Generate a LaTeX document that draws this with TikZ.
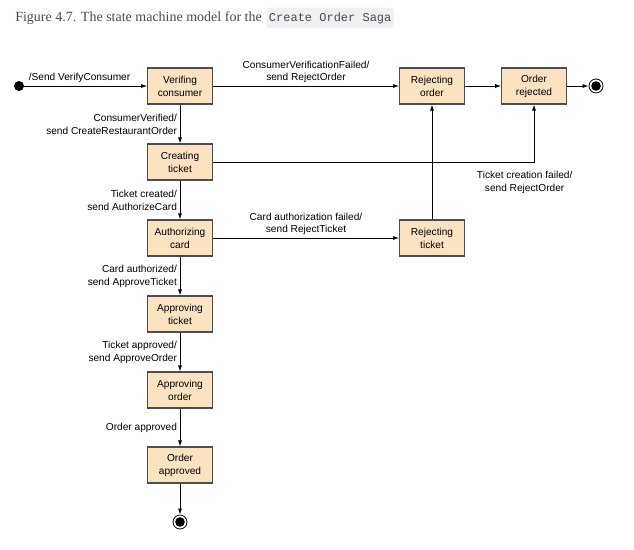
\documentclass[tikz,border=0pt]{standalone}
\usepackage{fontspec}
\setmainfont{Liberation Serif}
\setsansfont{Liberation Sans}
\setmonofont{Liberation Mono}
\usetikzlibrary{positioning,arrows.meta}

\definecolor{statefill}{HTML}{FBE3C1}
\definecolor{stateline}{HTML}{4D4D4D}
\definecolor{titlegray}{HTML}{4A4A4A}
\definecolor{codebg}{HTML}{EEF0F4}

\tikzset{
  state/.style={draw=stateline, fill=statefill, line width=0.8pt, minimum width=48.5pt, minimum height=27pt, inner sep=1pt, align=center},
  trans/.style={-{Latex[length=4.5pt,width=3pt]}, line width=0.6pt},
  lbl/.style={align=center, inner sep=2pt}
}

\begin{document}
\begin{tikzpicture}[x=0.75pt, y=-0.75pt, font=\sffamily\fontsize{7.6}{9.6}\selectfont]
  \useasboundingbox (0,0) rectangle (634,549);
  % caption
  \node[anchor=west, text=titlegray, font=\rmfamily\fontsize{10.5}{12}\selectfont, inner sep=0pt] (title) at (15,18) {Figure 4.7. The state machine model for the};
  \node[anchor=west, fill=codebg, rounded corners=2.5pt, text=titlegray, font=\ttfamily\fontsize{9}{11}\selectfont, inner xsep=2pt, inner ysep=3.5pt] (code) at (title.east) [xshift=3pt] {Create Order Saga};

  % main column of states
  \foreach \y/\name/\txt in {86/verify/Verifing\\consumer, 162/create/Creating\\ticket, 238/auth/Authorizing\\card, 314/apprticket/Approving\\ticket, 390/approrder/Approving\\order, 465/approved/Order\\approved}
    \node[state] (\name) at (180,\y) {\txt};

  % reject branch
  \node[state] (rejorder) at (432,86) {Rejecting\\order};
  \node[state] (rejected) at (534,86) {Order\\rejected};
  \node[state] (rejticket) at (432,238) {Rejecting\\ticket};

  % start and final states
  \node[circle, fill=black, inner sep=0pt, minimum size=7.5pt] (start) at (19,86) {};
  \node[circle, draw=black, line width=0.6pt, inner sep=0pt, minimum size=10.5pt] (endtop) at (596,86) {};
  \fill (endtop) circle[radius=3.6pt];
  \node[circle, draw=black, line width=0.6pt, inner sep=0pt, minimum size=10.5pt] (endbottom) at (180,522) {};
  \fill (endbottom) circle[radius=3.6pt];

  % transitions
  \draw[trans] (start) -- node[lbl, above, pos=0.45] {/Send VerifyConsumer} (verify);
  \draw[trans] (verify) -- node[lbl, above] {ConsumerVerificationFailed/\\send RejectOrder} (rejorder);
  \draw[trans] (rejorder) -- (rejected);
  \draw[trans] (rejected) -- (endtop);
  \draw[trans] (verify) -- node[lbl, left, align=right] {ConsumerVerified/\\send CreateRestaurantOrder} (create);
  \draw[trans] (create) -- (rejected.south |- create) node[lbl, below, xshift=-7pt, yshift=-4.5pt] {Ticket creation failed/\\send RejectOrder} -- (rejected);
  \draw[trans] (create) -- node[lbl, left, align=right] {Ticket created/\\send AuthorizeCard} (auth);
  \draw[trans] (auth) -- node[lbl, above] {Card authorization failed/\\send RejectTicket} (rejticket);
  \draw[trans] (rejticket) -- (rejorder);
  \draw[trans] (auth) -- node[lbl, left, align=right] {Card authorized/\\send ApproveTicket} (apprticket);
  \draw[trans] (apprticket) -- node[lbl, left, align=right] {Ticket approved/\\send ApproveOrder} (approrder);
  \draw[trans] (approrder) -- node[lbl, left] {Order approved} (approved);
  \draw[trans] (approved) -- (endbottom);
\end{tikzpicture}
\end{document}
